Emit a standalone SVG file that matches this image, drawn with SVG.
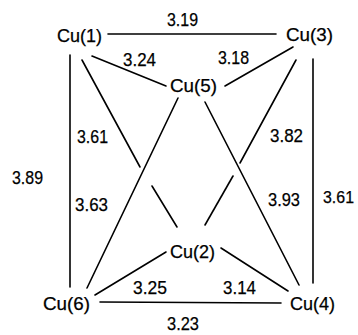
<svg xmlns="http://www.w3.org/2000/svg" width="358" height="335" viewBox="0 0 358 335">
<style>
.cu{font-family:"Liberation Sans",Arial,sans-serif;font-size:18px;fill:#000;stroke:#000;stroke-width:0.25}
.d{font-family:"Liberation Sans",Arial,sans-serif;font-size:18.5px;fill:#000;stroke:#000;stroke-width:0.25}
.e{stroke:#000;stroke-width:1.6;fill:none;stroke-linecap:round}
</style>
<rect width="358" height="335" fill="#fff"/>
<g id="connectors">
<line class="e" x1="108" y1="34" x2="276" y2="34"/>
<line class="e" x1="92" y1="56" x2="166" y2="86"/>
<line class="e" x1="293" y1="47" x2="225" y2="86"/>
<line class="e" x1="70" y1="55" x2="70" y2="287"/>
<line class="e" x1="313" y1="59" x2="313" y2="283"/>
<line class="e" x1="82" y1="60" x2="140" y2="167"/>
<line class="e" x1="152" y1="186" x2="177" y2="227"/>
<line class="e" x1="296" y1="60" x2="240" y2="163"/>
<line class="e" x1="233" y1="176" x2="205" y2="225"/>
<line class="e" x1="178" y1="98" x2="87" y2="288"/>
<line class="e" x1="205" y1="102" x2="299" y2="285"/>
<line class="e" x1="95" y1="295" x2="166" y2="252"/>
<line class="e" x1="221" y1="248" x2="288" y2="291"/>
<line class="e" x1="100" y1="302" x2="281" y2="303"/>
</g>
<g id="labels">
<text class="d" x="167" y="26" textLength="31" lengthAdjust="spacingAndGlyphs">3.19</text>
<text class="d" x="123" y="66" textLength="33" lengthAdjust="spacingAndGlyphs">3.24</text>
<text class="d" x="218" y="64" textLength="31" lengthAdjust="spacingAndGlyphs">3.18</text>
<text class="d" x="77" y="143" textLength="31" lengthAdjust="spacingAndGlyphs">3.61</text>
<text class="d" x="270" y="142" textLength="33" lengthAdjust="spacingAndGlyphs">3.82</text>
<text class="d" x="12" y="184" textLength="31" lengthAdjust="spacingAndGlyphs">3.89</text>
<text class="d" x="75" y="211" textLength="33" lengthAdjust="spacingAndGlyphs">3.63</text>
<text class="d" x="268" y="206" textLength="32" lengthAdjust="spacingAndGlyphs">3.93</text>
<text class="d" x="323" y="203" style="font-size:17px" textLength="31" lengthAdjust="spacingAndGlyphs">3.61</text>
<text class="d" x="133" y="294" textLength="34" lengthAdjust="spacingAndGlyphs">3.25</text>
<text class="d" x="223" y="294" textLength="33" lengthAdjust="spacingAndGlyphs">3.14</text>
<text class="d" x="167" y="330" textLength="32" lengthAdjust="spacingAndGlyphs">3.23</text>
</g>
<g id="cu1"><text class="cu" x="57" y="42" textLength="45" lengthAdjust="spacingAndGlyphs">Cu(1)</text></g>
<g id="cu3"><text class="cu" x="286" y="41" textLength="47" lengthAdjust="spacingAndGlyphs">Cu(3)</text></g>
<g id="cu5"><text class="cu" x="170" y="92" textLength="47" lengthAdjust="spacingAndGlyphs">Cu(5)</text></g>
<g id="cu2"><text class="cu" x="170" y="258" textLength="45" lengthAdjust="spacingAndGlyphs">Cu(2)</text></g>
<g id="cu6"><text class="cu" x="43" y="310" textLength="47" lengthAdjust="spacingAndGlyphs">Cu(6)</text></g>
<g id="cu4"><text class="cu" x="290" y="310" textLength="45" lengthAdjust="spacingAndGlyphs">Cu(4)</text></g>
</svg>
